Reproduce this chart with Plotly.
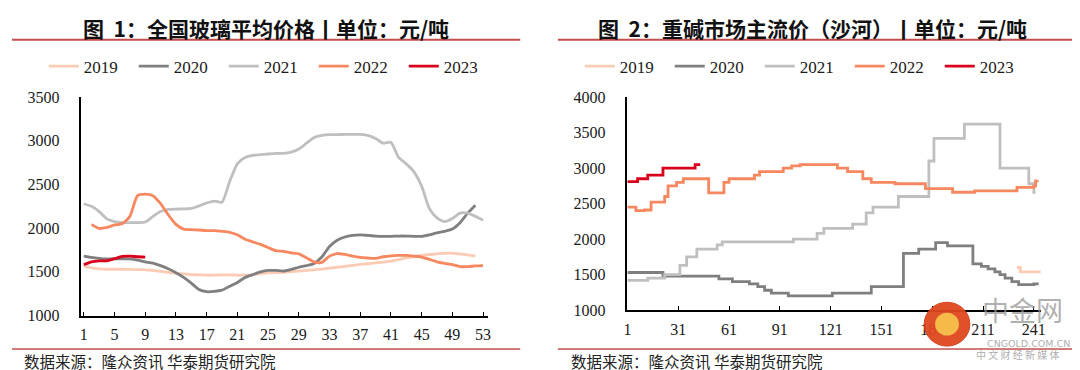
import plotly.graph_objects as go

# ---------------- Data: Figure 1 (weekly glass price, CNY/t) ----------------
weeks_2019 = list(range(1, 53))
glass_2019 = [1565, 1546, 1535, 1530, 1530, 1530, 1528, 1525, 1524, 1517,
              1506, 1495, 1484, 1477, 1469, 1466, 1462, 1462, 1466, 1466,
              1462, 1462, 1466, 1480, 1488, 1491, 1495, 1502, 1509, 1517,
              1524, 1531, 1542, 1553, 1564, 1575, 1586, 1593, 1604, 1611,
              1622, 1640, 1659, 1673, 1688, 1699, 1706, 1713, 1713, 1706,
              1695, 1680]
weeks_2020 = list(range(1, 53))
glass_2020 = [1680, 1665, 1655, 1648, 1648, 1650, 1648, 1635, 1615, 1600,
              1571, 1535, 1491, 1437, 1371, 1298, 1273, 1277, 1291, 1335,
              1378, 1437, 1469, 1499, 1517, 1517, 1509, 1528, 1553, 1571,
              1597, 1670, 1790, 1862, 1899, 1917, 1924, 1917, 1910, 1906,
              1906, 1910, 1910, 1906, 1906, 1924, 1946, 1964, 1990, 2063,
              2172, 2263]
weeks_2021 = list(range(1, 54))
glass_2021 = [2280, 2250, 2190, 2106, 2074, 2063, 2063, 2063, 2070, 2135,
              2190, 2215, 2219, 2220, 2226, 2255, 2288, 2310, 2296, 2535,
              2736, 2808, 2834, 2841, 2849, 2856, 2856, 2870, 2907, 2972,
              3038, 3063, 3070, 3070, 3074, 3074, 3074, 3063, 3027, 2972,
              2983, 2809, 2736, 2645, 2481, 2226, 2117, 2074, 2110, 2172,
              2172, 2135, 2092]
weeks_2022 = list(range(2, 54))
glass_2022 = [2044, 1997, 2008, 2037, 2052, 2135, 2372, 2390, 2372, 2281,
              2154, 2044, 1990, 1983, 1979, 1972, 1972, 1964, 1953, 1924,
              1873, 1844, 1815, 1779, 1742, 1735, 1717, 1706, 1662, 1615,
              1608, 1680, 1710, 1699, 1680, 1666, 1659, 1655, 1673, 1684,
              1688, 1688, 1680, 1670, 1644, 1615, 1597, 1582, 1560, 1560,
              1568, 1571]
weeks_2023 = list(range(1, 10))
glass_2023 = [1582, 1615, 1626, 1626, 1651, 1677, 1680, 1673, 1670]

glass_ticks = [1, 5, 9, 13, 17, 21, 25, 29, 33, 37, 41, 45, 49, 53]

# ---------------- Data: Figure 2 (Shahe heavy soda ash, CNY/t) ----------------
# price change points (day index, price); the line holds each price until the next change
soda_2019_day = [231, 233, 245]
soda_2019 = [1600, 1540, 1540]
soda_2020_day = [1, 22, 55, 63, 73, 78, 82, 86, 96, 122, 145, 164, 173, 183,
                 190, 205, 210, 214, 218, 221, 224, 228, 232, 241, 243]
soda_2020 = [1530, 1480, 1440, 1400, 1370, 1330, 1280, 1240, 1200, 1240, 1330,
             1800, 1860, 1950, 1905, 1650, 1615, 1580, 1540, 1500, 1450, 1400,
             1360, 1370, 1390]
soda_2021_day = [1, 13, 23, 32, 36, 42, 54, 57, 99, 113, 117, 134, 142, 146,
                 161, 179, 182, 200, 221, 238, 241, 242]
soda_2021 = [1420, 1450, 1500, 1630, 1750, 1860, 1920, 1960, 2000, 2080, 2150,
             2210, 2370, 2450, 2600, 3100, 3420, 3620, 3000, 2780, 2660, 2660]
soda_2022_day = [1, 6, 11, 15, 23, 25, 30, 34, 49, 58, 61, 76, 79, 93, 98, 103,
                 125, 131, 140, 145, 159, 177, 193, 206, 231, 241, 242, 243]
soda_2022 = [2450, 2400, 2410, 2520, 2600, 2750, 2800, 2850, 2650, 2800, 2850,
             2900, 2950, 3000, 3030, 3050, 3000, 2950, 2850, 2800, 2780, 2710,
             2660, 2680, 2730, 2750, 2820, 2830]
soda_2023_day = [1, 7, 13, 22, 41, 44]
soda_2023 = [2810, 2850, 2900, 3000, 3050, 3050]

soda_ticks = [1, 31, 61, 91, 121, 151, 181, 211, 241]

years = ["2019", "2020", "2021", "2022", "2023"]
colors = {"2019": "#FBCBB4", "2020": "#7F7F7F", "2021": "#BFBFBF",
          "2022": "#F6875E", "2023": "#D9001B"}

W, H = 1080, 370
def px(x):
    return x / W
def py(y):
    return 1 - y / H

fig = go.Figure()

glass = {"2019": (weeks_2019, glass_2019), "2020": (weeks_2020, glass_2020),
         "2021": (weeks_2021, glass_2021), "2022": (weeks_2022, glass_2022),
         "2023": (weeks_2023, glass_2023)}
soda = {"2019": (soda_2019_day, soda_2019), "2020": (soda_2020_day, soda_2020),
        "2021": (soda_2021_day, soda_2021), "2022": (soda_2022_day, soda_2022),
        "2023": (soda_2023_day, soda_2023)}

for yr in years:
    xs, ys = glass[yr]
    fig.add_trace(go.Scatter(x=xs, y=ys, name=yr, mode="lines",
                             line=dict(color=colors[yr], width=2.8, shape="spline", smoothing=0.6),
                             xaxis="x", yaxis="y", legend="legend"))
for yr in years:
    xs, ys = soda[yr]
    fig.add_trace(go.Scatter(x=xs, y=ys, name=yr, mode="lines",
                             line=dict(color=colors[yr], width=2.8, shape="hv"),
                             xaxis="x2", yaxis="y2", legend="legend2"))

tickfont = dict(family="Liberation Serif", size=16, color="#1a1a1a")
xcommon = dict(showline=True, linecolor="black", linewidth=1.5, showgrid=False,
               zeroline=False, ticks="inside", ticklen=4, tickwidth=1.2,
               tickcolor="black", tickfont=tickfont, fixedrange=True)
ycommon = dict(showline=True, linecolor="black", linewidth=1.5, showgrid=False,
               zeroline=False, ticks="", tickfont=tickfont, dtick=500,
               ticklabelstandoff=17, fixedrange=True)

legend_common = dict(orientation="h", yanchor="middle", xanchor="left",
                     font=dict(family="Liberation Serif", size=17, color="#1a1a1a"),
                     bgcolor="rgba(0,0,0,0)", entrywidth=45, entrywidthmode="pixels",
                     itemclick=False, itemdoubleclick=False)

fig.update_layout(
    width=W, height=H, margin=dict(l=0, r=0, t=0, b=0),
    paper_bgcolor="white", plot_bgcolor="white", showlegend=True,
    xaxis=dict(domain=[px(70), px(480)], range=[0.7, 53.7], tickmode="array",
               tickvals=glass_ticks, ticktext=[str(t) for t in glass_ticks],
               anchor="y", ticklabelstandoff=3, **xcommon),
    yaxis=dict(domain=[py(314), py(85)], range=[1000, 3500], anchor="x", **ycommon),
    xaxis2=dict(domain=[px(620), px(1037)], range=[1, 245.4], tickmode="array",
                tickvals=soda_ticks, ticktext=[str(t) for t in soda_ticks],
                anchor="y2", ticklabelstandoff=4, **xcommon),
    yaxis2=dict(domain=[py(308.3), py(85)], range=[1000, 4000], anchor="x2", **ycommon),
    legend=dict(x=px(32), y=py(53), **legend_common),
    legend2=dict(x=px(572), y=py(53), **legend_common),
)

title_font = dict(family="Noto Sans CJK SC", size=21, color="#111111")
src_font = dict(family="Noto Sans CJK SC", size=15.5, color="#222222")
nb = "\u00a0"
annos = [
    dict(text=f"<b>图{nb}{nb}1：全国玻璃平均价格丨单位：元/吨</b>", x=px(256), y=py(13),
         xanchor="center", yanchor="middle", font=title_font),
    dict(text=f"<b>图{nb}{nb}2：重碱市场主流价（沙河）丨单位：元/吨</b>", x=px(806), y=py(13),
         xanchor="center", yanchor="middle", font=title_font),
    dict(text="数据来源：隆众资讯 华泰期货研究院", x=px(10), y=py(362),
         xanchor="left", yanchor="middle", font=src_font),
    dict(text="数据来源：隆众资讯 华泰期货研究院", x=px(561), y=py(362),
         xanchor="left", yanchor="middle", font=src_font),
    dict(text="中金网", x=px(1018), y=py(308), xanchor="center", yanchor="middle",
         font=dict(family="Noto Sans CJK SC", size=27, color="rgba(150,150,150,0.75)")),
    dict(text="CNGOLD.COM.CN", x=px(1024), y=py(343), xanchor="center", yanchor="middle",
         font=dict(family="DejaVu Sans", size=9.5, color="rgba(150,150,150,0.8)")),
    dict(text="中 文 财 经 新 媒 体", x=px(1013), y=py(355), xanchor="center", yanchor="middle",
         font=dict(family="Noto Sans CJK SC", size=10, color="rgba(150,150,150,0.8)")),
]
for a in annos:
    a.update(xref="paper", yref="paper", showarrow=False)
fig.update_layout(annotations=annos)

line_col = "#C0504D"
shapes = [
    dict(type="line", x0=px(0), x1=px(512), y0=py(25), y1=py(25),
         line=dict(color=line_col, width=2)),
    dict(type="line", x0=px(550), x1=px(1078), y0=py(25), y1=py(25),
         line=dict(color=line_col, width=2)),
    dict(type="line", x0=px(0), x1=px(512), y0=py(349), y1=py(349),
         line=dict(color=line_col, width=1.5)),
    dict(type="line", x0=px(550), x1=px(1078), y0=py(349), y1=py(349),
         line=dict(color=line_col, width=1.5)),
    # watermark logo disc
    dict(type="circle", x0=px(919), x1=px(965), y0=py(346), y1=py(300),
         fillcolor="#E0481E", line=dict(color="#D23A1A", width=1), opacity=0.95),
    dict(type="circle", x0=px(930), x1=px(954), y0=py(335), y1=py(311),
         fillcolor="#F6C04A", line=dict(width=0), opacity=0.95),
]
for s in shapes:
    s.update(xref="paper", yref="paper")
fig.update_layout(shapes=shapes)

fig.write_html("out.html")
